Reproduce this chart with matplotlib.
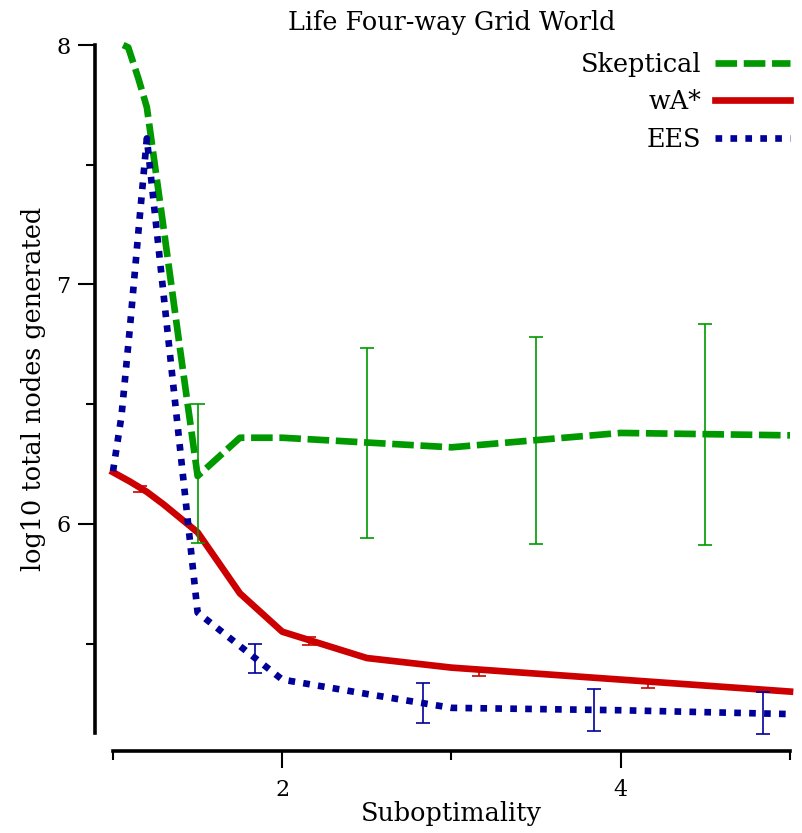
import matplotlib
matplotlib.use("Agg")
import matplotlib.pyplot as plt
import numpy as np

# ---- data -------------------------------------------------------------
series_names = ["Skeptical", "wA*", "EES"]

skeptical_x = [1.06, 1.09, 1.15, 1.2, 1.3, 1.4, 1.5, 1.75, 2.0, 2.5, 3.0, 4.0, 5.0]
skeptical_y = [8.0, 7.99, 7.86, 7.74, 7.23, 6.71, 6.2, 6.36, 6.36, 6.34, 6.32, 6.38, 6.37]

wastar_x = [1.0, 1.1, 1.2, 1.3, 1.4, 1.5, 1.75, 2.0, 2.5, 3.0, 4.0, 5.0]
wastar_y = [6.216, 6.177, 6.134, 6.081, 6.023, 5.965, 5.71, 5.55, 5.44, 5.40, 5.35, 5.30]

ees_x = [1.0, 1.05, 1.1, 1.15, 1.2, 1.5, 2.0, 2.5, 3.0, 4.0, 5.0]
ees_y = [6.22, 6.45, 6.82, 7.22, 7.61, 5.63, 5.35, 5.29, 5.232, 5.222, 5.206]

# confidence intervals (lower, upper) at staggered positions
skeptical_err_x = [1.5, 2.5, 3.5, 4.5]
skeptical_err_lo = [5.92, 5.943, 5.915, 5.914]
skeptical_err_hi = [6.50, 6.735, 6.78, 6.835]

wastar_err_x = [1.16, 2.16, 3.16, 4.16]
wastar_err_lo = [6.134, 5.493, 5.366, 5.316]
wastar_err_hi = [6.158, 5.527, 5.400, 5.350]

ees_err_x = [1.84, 2.83, 3.84, 4.84]
ees_err_lo = [5.379, 5.168, 5.137, 5.123]
ees_err_hi = [5.50, 5.335, 5.311, 5.297]

x_major = [2, 4]
x_minor = [1, 3, 5]
y_major = [6, 7, 8]
y_minor = [5.5, 6.5, 7.5]

title = "Life Four-way Grid World"
xlabel = "Suboptimality"
ylabel = "log10 total nodes generated"

# ---- style ------------------------------------------------------------
plt.rcParams["font.family"] = ["DejaVu Serif"]
GREEN = "#009900"
RED = "#cc0000"
BLUE = "#000099"
LW = 4.8
BIG = 18.4
SMALL = 16

W, H = 803, 833
fig = plt.figure(figsize=(W / 100, H / 100), dpi=100)
ax = fig.add_axes([113 / W, (H - 733) / H, 677 / W, 688 / H])

ax.plot(skeptical_x, skeptical_y, color=GREEN, lw=LW, dashes=(3.24, 1.0),
        label=series_names[0], clip_on=False)
ax.plot(wastar_x, wastar_y, color=RED, lw=LW,
        label=series_names[1], clip_on=False)
ax.plot(ees_x, ees_y, color=BLUE, lw=LW, dashes=(1.0, 1.24),
        label=series_names[2], clip_on=False)


def draw_ci(xs, lo, hi, color):
    lo = np.asarray(lo)
    hi = np.asarray(hi)
    mid = (lo + hi) / 2
    ax.errorbar(xs, mid, yerr=[mid - lo, hi - mid], fmt="none", ecolor=color,
                elinewidth=1.2, capsize=5, capthick=1.2, clip_on=False, zorder=3)


draw_ci(skeptical_err_x, skeptical_err_lo, skeptical_err_hi, GREEN)
draw_ci(wastar_err_x, wastar_err_lo, wastar_err_hi, RED)
draw_ci(ees_err_x, ees_err_lo, ees_err_hi, BLUE)

ax.set_xlim(1, 5)
ax.set_ylim(5.127, 8.0)

# detached axis spines
for side in ("top", "right"):
    ax.spines[side].set_visible(False)
for side in ("left", "bottom"):
    ax.spines[side].set_position(("outward", 18 * 0.72))
    ax.spines[side].set_linewidth(2.6)

ax.set_xticks(x_major)
ax.set_xticks(x_minor, minor=True)
ax.set_yticks(y_major)
ax.set_yticks(y_minor, minor=True)
ax.set_xticklabels([str(v) for v in x_major])
ax.set_yticklabels([str(v) for v in y_major])
ax.tick_params(which="major", length=12.2, width=1.5, labelsize=SMALL, direction="out")
ax.tick_params(which="minor", length=6.2, width=1.5, direction="out")
ax.tick_params(axis="x", which="major", pad=8)
ax.tick_params(axis="y", which="major", pad=5.5)

ax.set_title(title, fontsize=BIG, pad=11)
ax.set_xlabel(xlabel, fontsize=BIG)
ax.set_ylabel(ylabel, fontsize=BIG)
ax.xaxis.set_label_coords(0.5, (733 - 801) / 688)
ax.yaxis.set_label_coords((46 - 113) / 677, 0.5)

leg = ax.legend(loc="upper right", bbox_to_anchor=(1.0, 1.0 - 7 / 688), frameon=False,
                markerfirst=False, fontsize=BIG, handlelength=2.93,
                handletextpad=0.55, labelspacing=0.48, borderpad=0,
                borderaxespad=0)

fig.savefig("out.png", dpi=100)
